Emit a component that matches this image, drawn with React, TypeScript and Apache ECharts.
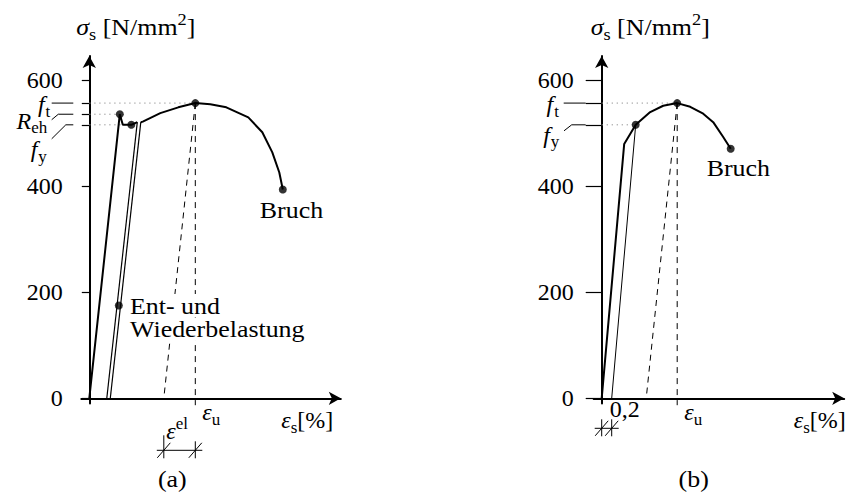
import { useEffect, useRef } from 'react';
import * as echarts from 'echarts';

const SERIF = 'Liberation Serif, serif';

// stress axis (N/mm²)
const stressTicks = [0, 200, 400, 600];

// (a) hot-rolled steel with an upper and lower yield point
const ftA = 557;
const rehA = 536;
const fyA = 516;
const loadingA = [[0, 0], [0.61, 536], [0.67, 516], [0.84, 516], [0.96, 521]];
const unloadA = [[0.96, 521], [0.35, 0]];
const reloadA = [[0.42, 0], [1.03, 521]];
const hardeningA = [
  [1.03, 521], [1.07, 522], [1.42, 538], [1.78, 549], [2.12, 557], [2.42, 555],
  [2.74, 549], [3.18, 530], [3.46, 502], [3.66, 464], [3.8, 426], [3.87, 394],
];
const upperYieldA = [0.61, 536];
const lowerYieldA = [0.84, 516];
const epsUA = 2.12;
const epsResidualA = 1.49;
const breakA = [3.87, 394];
const reloadMarkA = [0.59, 175];

// (b) cold-worked steel, 0.2 % proof stress
const ftB = 557;
const fyB = 516;
const loadingB = [
  [0, 0], [0.45, 480], [0.68, 516], [0.97, 540], [1.23, 552], [1.51, 557],
  [1.77, 550], [2.03, 537], [2.23, 521], [2.43, 493], [2.58, 471],
];
const proofStrain = 0.2;
const offsetLineB = [[0.2, 0], [0.68, 516]];
const proofPointB = [0.68, 516];
const epsUB = 1.51;
const epsResidualB = 0.89;
const breakB = [2.58, 471];

// layout
const PX_PER_STRAIN = 50;
const PX_PER_STRESS = 0.53;
const Y_MIN = -10;
const Y_MAX = 646;
const X_MIN = -0.16;
const ORIGIN_Y = 398.3;
const X_MAX_A = 5.03;
const X_MAX_B = 4.85;
const ORIGIN_X_A = 89.3;
const ORIGIN_X_B = 601.7;

const measureCtx = document.createElement('canvas').getContext('2d')!;
function textWidth(t: string, size: number, italic?: boolean) {
  measureCtx.font = `${italic ? 'italic ' : ''}${size}px "Liberation Serif", serif`;
  return measureCtx.measureText(t).width;
}

type Part = { t: string; size: number; italic?: boolean; dy?: number; dx?: number };

function mathText(
  parts: Part[],
  x: number,
  y: number,
  anchor: 'left' | 'right' | 'center' = 'left',
  sx = 1,
  extra: Record<string, any> = {},
) {
  const widths = parts.map((p) => (textWidth(p.t, p.size, p.italic) + (p.dx || 0)) * sx);
  const total = widths.reduce((a, b) => a + b, 0);
  let cx = anchor === 'left' ? x : anchor === 'right' ? x - total : x - total / 2;
  return parts.map((p, i) => {
    const el = {
      type: 'text',
      x: cx + (p.dx || 0) * sx,
      y: y + (p.dy || 0),
      scaleX: sx,
      silent: true,
      z: 10,
      style: {
        text: p.t,
        fontFamily: SERIF,
        fontSize: p.size,
        fontStyle: p.italic ? 'italic' : 'normal',
        lineHeight: Math.round(p.size * 0.8),
        fill: '#000',
        align: 'left',
        verticalAlign: 'middle',
        textAlign: 'left',
        textVerticalAlign: 'middle',
        ...extra,
      },
    };
    cx += widths[i];
    return el;
  });
}

function seg(x1: number, y1: number, x2: number, y2: number, w = 1) {
  return { type: 'line', silent: true, shape: { x1, y1, x2, y2 }, style: { stroke: '#000', lineWidth: w } };
}

function poly(points: number[][], w = 1) {
  return { type: 'polyline', silent: true, shape: { points }, style: { stroke: '#000', fill: null, lineWidth: w } };
}

// dimension chain with two ticks and slashes
function dimension(xl: number, xr: number, y: number, up: number) {
  return [
    seg(xl - 7, y, xr + 7, y),
    seg(xl, y - up, xl, y + 8),
    seg(xr, y - 9, xr, y + 8),
    seg(xl - 6.5, y + 7.5, xl + 6.5, y - 7.5),
    seg(xr - 6.5, y + 7.5, xr + 6.5, y - 7.5),
  ];
}

function lineSeries(grid: number, data: number[][], width: number, type: any = 'solid', color = '#000', z = 3) {
  return {
    type: 'line',
    xAxisIndex: grid,
    yAxisIndex: grid,
    data,
    symbol: 'none',
    clip: false,
    silent: true,
    z,
    lineStyle: { color, width, type },
  };
}

function dotSeries(grid: number, data: number[][]) {
  return {
    type: 'scatter',
    xAxisIndex: grid,
    yAxisIndex: grid,
    data,
    symbol: 'circle',
    symbolSize: 8,
    clip: false,
    silent: true,
    z: 5,
    itemStyle: { color: '#000' },
  };
}

function gridFor(originX: number, xMax: number) {
  return {
    left: originX + X_MIN * PX_PER_STRAIN,
    top: ORIGIN_Y - Y_MAX * PX_PER_STRESS,
    width: (xMax - X_MIN) * PX_PER_STRAIN,
    height: (Y_MAX - Y_MIN) * PX_PER_STRESS,
    containLabel: false,
    outerBoundsMode: 'none',
  };
}

const axisLine = {
  onZero: true,
  symbol: ['none', 'arrow'],
  symbolSize: [10, 12],
  lineStyle: { color: '#000', width: 2 },
};

function xAxisFor(grid: number, xMax: number) {
  return {
    type: 'value',
    gridIndex: grid,
    min: X_MIN,
    max: xMax,
    axisLine,
    axisTick: { show: false },
    axisLabel: { show: false },
    splitLine: { show: false },
  };
}

function yAxisFor(grid: number, tickLen: number, tickValues: number[], margin: number) {
  return {
    type: 'value',
    gridIndex: grid,
    min: Y_MIN,
    max: Y_MAX,
    axisLine,
    axisTick: { show: true, length: tickLen, customValues: tickValues, lineStyle: { color: '#000', width: 1.2 } },
    axisLabel: {
      show: true,
      customValues: stressTicks,
      margin,
      fontFamily: SERIF,
      fontSize: 24,
      lineHeight: 18,
      color: '#000',
    },
    splitLine: { show: false },
  };
}

const DOTTED = [1.2, 3.8];
const DASHED = [6, 5];
const STRETCH = 1.08;

export default function App() {
  const ref = useRef<HTMLDivElement>(null);

  useEffect(() => {
    if (!ref.current) return;
    const chart = echarts.init(ref.current, null, { renderer: 'svg' });

    chart.setOption({
      animation: false,
      backgroundColor: '#fff',
      textStyle: { fontFamily: SERIF },
      grid: [gridFor(ORIGIN_X_A, X_MAX_A), gridFor(ORIGIN_X_B, X_MAX_B)],
      xAxis: [xAxisFor(0, X_MAX_A), xAxisFor(1, X_MAX_B)],
      yAxis: [
        yAxisFor(0, 7.5, [...stressTicks, fyA, rehA, ftA], 18.5),
        yAxisFor(1, 16, [...stressTicks, fyB, ftB], 20),
      ],
      series: [
        // (a)
        lineSeries(0, [[0, ftA], [epsUA, ftA]], 1, DOTTED, '#8a8a8a', 1),
        lineSeries(0, [[0, rehA], upperYieldA], 1, DOTTED, '#8a8a8a', 1),
        lineSeries(0, [[0, fyA], lowerYieldA], 1, DOTTED, '#8a8a8a', 1),
        lineSeries(0, [[epsUA, ftA], [epsUA, -13]], 1, DASHED, '#000', 2),
        lineSeries(0, [[epsUA, ftA], [epsResidualA, 0]], 1, DASHED, '#000', 2),
        lineSeries(0, loadingA, 2),
        lineSeries(0, unloadA, 1.2),
        lineSeries(0, reloadA, 1.2),
        lineSeries(0, hardeningA, 2),
        dotSeries(0, [upperYieldA, lowerYieldA, [epsUA, ftA], breakA, reloadMarkA]),
        // (b)
        lineSeries(1, [[0, ftB], [epsUB, ftB]], 1, DOTTED, '#8a8a8a', 1),
        lineSeries(1, [[0, fyB], proofPointB], 1, DOTTED, '#8a8a8a', 1),
        lineSeries(1, [[epsUB, ftB], [epsUB, -13]], 1, DASHED, '#000', 2),
        lineSeries(1, [[epsUB, ftB], [epsResidualB, 0]], 1, DASHED, '#000', 2),
        lineSeries(1, loadingB, 2),
        lineSeries(1, offsetLineB, 1),
        dotSeries(1, [proofPointB, [epsUB, ftB], breakB]),
      ],
    });

    const px = (g: number, x: number, y: number) => chart.convertToPixel({ gridIndex: g }, [x, y]) as number[];
    const graphic: any[] = [];
    const sub = (t: string): Part => ({ t, size: 17, dy: 7 });
    const sup = (t: string): Part => ({ t, size: 17, dy: -8 });
    const boxed = { backgroundColor: '#fff', padding: [2, 3, 2, 3] };
    const axisTitle = (): Part[] => [
      { t: 'σ', size: 24, italic: true },
      sub('s'),
      { t: ' [N/mm', size: 24 },
      sup('2'),
      { t: ']', size: 24 },
    ];

    // ---- panel (a)
    {
      const [x0, y0] = px(0, 0, 0);
      const yFt = px(0, 0, ftA)[1];
      const yReh = px(0, 0, rehA)[1];
      const yFy = px(0, 0, fyA)[1];
      const xU = px(0, epsUA, 0)[0];
      const xRes = px(0, epsResidualA, 0)[0];
      const brk = px(0, breakA[0], breakA[1]);
      const mark = px(0, reloadMarkA[0], reloadMarkA[1]);

      graphic.push(...mathText(axisTitle(), x0 - 13, 27, 'left', STRETCH));
      graphic.push(...mathText([{ t: 'f', size: 24, italic: true }, { ...sub('t'), dx: 1 }], x0 - 39, yFt + 1, 'right'));
      graphic.push(...mathText([{ t: 'R', size: 24, italic: true }, { ...sub('eh'), dy: 6.5 }], x0 - 42, yReh + 7, 'right'));
      graphic.push(...mathText([{ t: 'f', size: 24, italic: true }, { ...sub('y'), dx: 1 }], x0 - 42.5, yFy + 24.5, 'right'));
      graphic.push(seg(x0 - 37.6, yFt, x0 - 16, yFt));
      graphic.push(poly([[x0 - 37.6, yReh + 5.5], [x0 - 31, yReh], [x0 - 16, yReh]]));
      graphic.push(poly([[x0 - 37.6, yFy + 14], [x0 - 23.5, yFy], [x0 - 16, yFy]]));

      graphic.push(...mathText([{ t: 'ε', size: 24, italic: true }, sub('u')], xU + 7, y0 + 14));
      graphic.push(...mathText([{ t: 'ε', size: 24, italic: true }, sub('s'), { t: '[%]', size: 24 }], x0 + 192, y0 + 22));
      graphic.push(...mathText([{ t: 'ε', size: 24, italic: true }, sup('el')], xRes + 2.5, y0 + 33));
      graphic.push(...dimension(xRes, xU, y0 + 52, 15));

      graphic.push(...mathText([{ t: 'Bruch', size: 24 }], brk[0] - 23, brk[1] + 20.5, 'left', STRETCH));
      graphic.push(...mathText([{ t: 'Ent- und', size: 24 }], mark[0] + 8, mark[1], 'left', STRETCH, boxed));
      graphic.push(...mathText([{ t: 'Wiederbelastung', size: 24 }], mark[0] + 8, mark[1] + 23.5, 'left', STRETCH, boxed));
      graphic.push(...mathText([{ t: '(a)', size: 24 }], x0 + 83, 479, 'center', STRETCH));
    }

    // ---- panel (b)
    {
      const [x0, y0] = px(1, 0, 0);
      const yFt = px(1, 0, ftB)[1];
      const yFy = px(1, 0, fyB)[1];
      const xU = px(1, epsUB, 0)[0];
      const xProof = px(1, proofStrain, 0)[0];
      const brk = px(1, breakB[0], breakB[1]);

      graphic.push(...mathText(axisTitle(), x0 - 11, 27, 'left', STRETCH));
      graphic.push(...mathText([{ t: 'f', size: 24, italic: true }, { ...sub('t'), dx: 1 }], x0 - 42.7, yFt + 1, 'right'));
      graphic.push(...mathText([{ t: 'f', size: 24, italic: true }, { ...sub('y'), dx: 1 }], x0 - 42.4, yFy + 10, 'right'));
      graphic.push(seg(x0 - 38, yFt, x0 - 16, yFt));
      graphic.push(poly([[x0 - 37.7, yFy + 6], [x0 - 30, yFy], [x0 - 16, yFy]]));

      graphic.push(...mathText([{ t: 'ε', size: 24, italic: true }, sub('u')], xU + 7, y0 + 14));
      graphic.push(...mathText([{ t: 'ε', size: 24, italic: true }, sub('s'), { t: '[%]', size: 24 }], x0 + 192, y0 + 22));
      graphic.push(...mathText([{ t: '0,2', size: 24 }], xProof - 2, y0 + 11));
      graphic.push(...dimension(x0, xProof, y0 + 30, 9));

      graphic.push(...mathText([{ t: 'Bruch', size: 24 }], brk[0] - 24, brk[1] + 19.5, 'left', STRETCH));
      graphic.push(...mathText([{ t: '(b)', size: 24 }], x0 + 92, 479, 'center', STRETCH));
    }

    chart.setOption({ graphic: { elements: graphic } });

    return () => chart.dispose();
  }, []);

  return <div ref={ref} style={{ position: 'fixed', left: 0, top: 0, width: 849, height: 496, background: '#fff' }} />;
}
